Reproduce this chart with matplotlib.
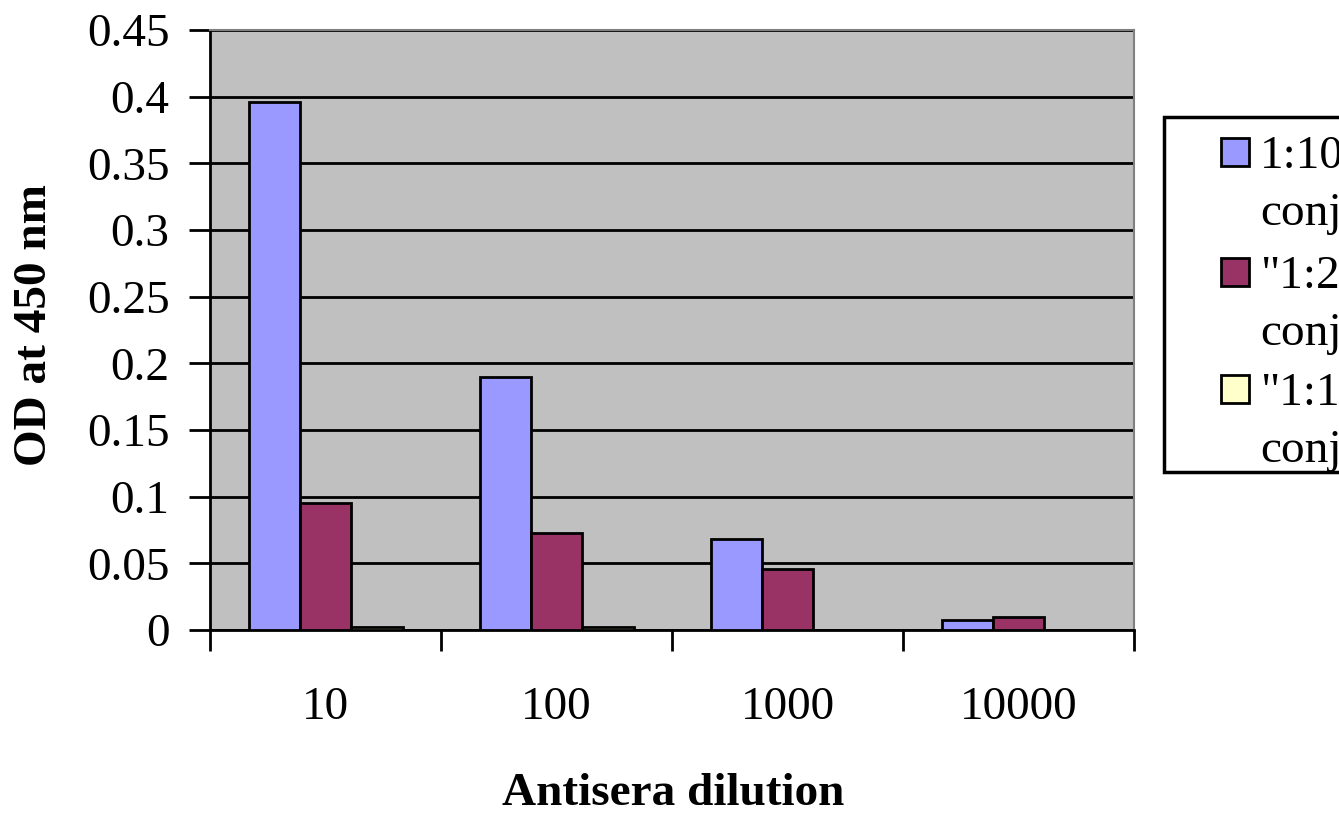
import matplotlib
matplotlib.use("Agg")
import matplotlib.pyplot as plt
from matplotlib.patches import Rectangle
import numpy as np

categories = ["10", "100", "1000", "10000"]
series_names = ["1:1000", '"1:2000', '"1:10000']
series_line2 = ["conjugate", "conjugate", "conjugate"]
values_a = [0.396, 0.190, 0.068, 0.0075]
values_b = [0.095, 0.073, 0.046, 0.0095]
values_c = [0.002, 0.002, 0.0, 0.0]
colors = ["#9999FF", "#993366", "#FFFFCC"]
yticks = [0, 0.05, 0.1, 0.15, 0.2, 0.25, 0.3, 0.35, 0.4, 0.45]
ytick_labels = ["0", "0.05", "0.1", "0.15", "0.2", "0.25", "0.3", "0.35", "0.4", "0.45"]

W, H = 1339, 814
plt.rcParams['font.family'] = ['Liberation Serif', 'DejaVu Serif']
fig = plt.figure(figsize=(W / 100, H / 100), dpi=100)

def fx(px):
    return px / W

def fy(py):
    return 1 - py / H

ax = fig.add_axes([fx(210), fy(630), (1134 - 210) / W, (630 - 30) / H])
ax.set_facecolor("#C0C0C0")

x = np.arange(len(categories))
w = 1 / 4.5
for i, (vals, col) in enumerate(zip([values_a, values_b, values_c], colors)):
    ax.bar(x + (i - 1) * w, vals, width=w, color=col, edgecolor="black",
           linewidth=2, zorder=3)

ax.set_xlim(-0.5, len(categories) - 0.5)
ax.set_ylim(0, 0.45)
ax.set_yticks(yticks)
ax.set_yticklabels(ytick_labels, fontsize=34)
ax.yaxis.grid(True, color="black", linewidth=2, zorder=1)
ax.set_axisbelow(True)

ax.set_xticks(np.arange(len(categories) + 1) - 0.5)
ax.set_xticklabels([])
ax.set_xticks(x, minor=True)
ax.set_xticklabels(categories, minor=True, fontsize=34)
ax.tick_params(axis="x", which="major", direction="out", length=15, width=2)
ax.tick_params(axis="x", which="minor", length=0, pad=41)
ax.tick_params(axis="y", direction="out", length=15, width=2, pad=14)

for side in ["top", "right"]:
    ax.spines[side].set_color("#808080")
    ax.spines[side].set_linewidth(1.5)
for side in ["left", "bottom"]:
    ax.spines[side].set_color("black")
    ax.spines[side].set_linewidth(2)

fig.text(fx(673), fy(805), "Antisera dilution", ha="center", va="baseline",
         fontsize=34, fontweight="bold")
fig.text(fx(35), fy(325), "OD at 450 nm", ha="center", va="center",
         rotation=90, fontsize=34, fontweight="bold")

# legend (clipped at the right edge of the figure, as in the reference)
fig.patches.append(Rectangle((fx(1164), fy(472)), 0.5, (472 - 117) / H,
                             transform=fig.transFigure, facecolor="white",
                             edgecolor="black", linewidth=2.5))
marker_tops = [138, 258, 375]
for top, col, l1, l2 in zip(marker_tops, colors, series_names, series_line2):
    fig.patches.append(Rectangle((fx(1221), fy(top + 28)), 28 / W, 28 / H,
                                 transform=fig.transFigure, facecolor=col,
                                 edgecolor="black", linewidth=2))
    base = top + 30
    fig.text(fx(1260), fy(base), l1, ha="left", va="baseline", fontsize=34)
    fig.text(fx(1260), fy(base + 57), l2, ha="left", va="baseline", fontsize=34)

fig.savefig("out.png", dpi=100)
